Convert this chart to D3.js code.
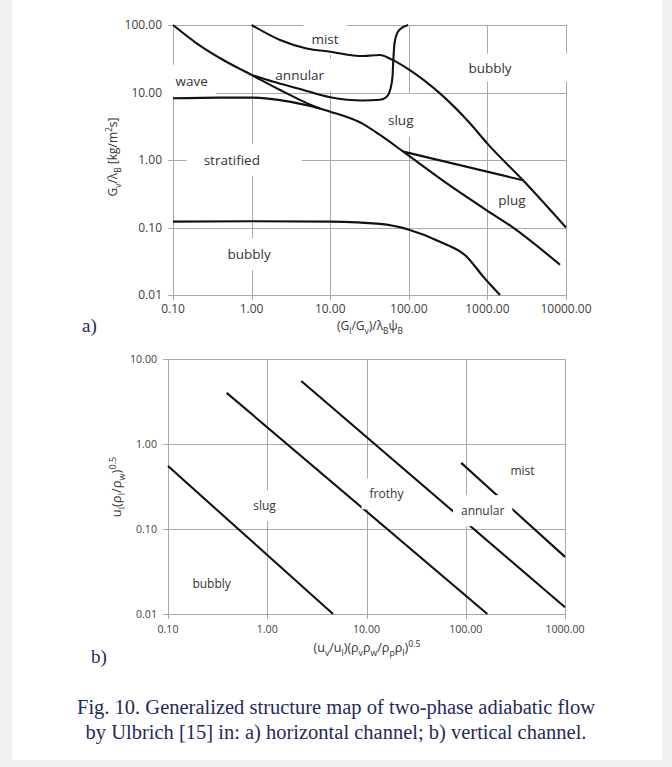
<!DOCTYPE html>
<html>
<head>
<meta charset="utf-8">
<script src="https://cdnjs.cloudflare.com/ajax/libs/d3/7.8.5/d3.min.js"></script>
<style>
  body { margin: 0; background: #f1f1f1; }
  svg { display: block; }
</style>
</head>
<body>
<div id="figure"></div>
<script>
// ---- data ----
// a) horizontal channel
var topXTicks = [0.1, 1, 10, 100, 1000, 10000];
var topYTicks = [0.01, 0.1, 1, 10, 100];

var waveUpper = [[0.1, 100], [0.2, 53.6], [0.436, 30.3], [1, 18.2], [2.3, 10.9], [7.4, 5.8], [10, 5.2],
  [26.4, 3.4], [43, 2.35], [85, 1.33], [250, 0.53], [980, 0.18], [2040, 0.103], [8400, 0.028]];
var waveLower = [[0.1, 8.2], [0.4, 8.4], [1, 8.4], [2.3, 7.7], [5, 6.5], [7.4, 5.8]];
var annularLower = [[1, 18.2], [1.9, 14.4], [4, 11.4], [10, 8.5], [26, 7.6], [43, 7.8], [52, 8.6],
  [58, 11], [62, 17], [63.5, 30], [66, 55], [74, 82], [98, 100]];
var mistBubbly = [[1, 100], [2.3, 60], [5, 45], [10, 40.2], [26, 34.7], [43, 35.9], [60, 31], [103, 21.5],
  [249, 9.7], [600, 3.5], [1000, 1.75], [2840, 0.5], [10000, 0.1]];
var slugPlug = [[85, 1.33], [2840, 0.5]];
var bubblyLower = [[0.1, 0.122], [1, 0.124], [10, 0.122], [43, 0.113], [103, 0.092], [249, 0.0616],
  [546, 0.037], [887, 0.0186], [1445, 0.01]];

var topLabels = [["mist", 8.6, 62], ["annular", 4.1, 18.2], ["wave", 0.173, 14.8], ["stratified", 0.56, 1.0],
  ["bubbly", 0.93, 0.04], ["bubbly", 1080, 23], ["slug", 79, 3.9], ["plug", 2055, 0.25]];

// b) vertical channel
var botXTicks = [0.1, 1, 10, 100, 1000];
var botYTicks = [0.01, 0.1, 1, 10];

var bubblySlug = [[0.1, 0.55], [4.6, 0.01]];
var slugFrothy = [[0.39, 4.0], [165, 0.01]];
var frothyAnnular = [[2.2, 5.5], [1000, 0.012]];
var annularMist = [[90, 0.6], [1000, 0.047]];

var botLabels = [["bubbly", 0.275, 0.0225], ["slug", 0.94, 0.187], ["frothy", 15.9, 0.258],
  ["annular", 148, 0.163], ["mist", 373, 0.48]];

var captionLines = ["Fig. 10. Generalized structure map of two-phase adiabatic flow",
  "by Ulbrich [15] in: a) horizontal channel; b) vertical channel."];

// ---- page ----
var svgWidth = 672;
var svgHeight = 767;
var gridColor = "#a9a9a9";
var labelFont = "'Open Sans', sans-serif";

var svg = d3.select("#figure").append("svg")
  .attr("width", svgWidth)
  .attr("height", svgHeight);

svg.append("rect").attr("width", svgWidth).attr("height", svgHeight).attr("fill", "#f1f1f1");
svg.append("rect").attr("x", 12).attr("y", 0).attr("width", 650).attr("height", 760).attr("fill", "#fff");

// text with sub / superscripts: parts = [[text, "sub"|"sup"|null], ...]
function richText(sel, parts, size) {
  var cur = 0;
  parts.forEach(function(p) {
    var target = p[1] == "sub" ? size * 0.3 : (p[1] == "sup" ? -size * 0.4 : 0);
    var t = sel.append("tspan").text(p[0]).attr("dy", target - cur);
    if (p[1]) t.attr("font-size", size * 0.7);
    cur = target;
  });
}

function drawPanel(opt) {
  var x = opt.x, y = opt.y;
  var xl = x.range()[0], xr = x.range()[1];
  var yb = y.range()[0], yt = y.range()[1];
  var g = svg.append("g");
  var fmt = d3.format(".2f");

  var gridG = g.append("g");
  gridG.selectAll("line.v").data(opt.xTicks).enter().append("line")
    .attr("x1", d => Math.round(x(d)) + 0.5).attr("x2", d => Math.round(x(d)) + 0.5)
    .attr("y1", yt).attr("y2", yb + 5)
    .attr("stroke", gridColor).attr("stroke-width", 1);
  gridG.selectAll("line.h").data(opt.yTicks).enter().append("line")
    .attr("x1", xl - 5).attr("x2", xr + 0.5)
    .attr("y1", d => Math.round(y(d)) + 0.5).attr("y2", d => Math.round(y(d)) + 0.5)
    .attr("stroke", gridColor).attr("stroke-width", 1);

  g.selectAll("text.xt").data(opt.xTicks).enter().append("text")
    .attr("x", d => x(d)).attr("y", yb + opt.tickGap)
    .attr("text-anchor", "middle")
    .style("font-family", labelFont).style("font-size", opt.tickSize + "px").style("fill", "#404040")
    .text(d => fmt(d));
  g.selectAll("text.yt").data(opt.yTicks).enter().append("text")
    .attr("x", xl - 11).attr("y", d => y(d)).attr("dy", "0.35em")
    .attr("text-anchor", "end")
    .style("font-family", labelFont).style("font-size", opt.tickSize + "px").style("fill", "#404040")
    .text(d => fmt(d));

  var boxG, curveG;
  if (opt.boxesOver) {
    curveG = g.append("g");
    boxG = g.append("g");
  } else {
    boxG = g.append("g");
    curveG = g.append("g");
  }
  var textG = g.append("g");

  var line = d3.line()
    .x(d => x(d[0])).y(d => y(d[1]))
    .curve(d3.curveMonotoneX);
  opt.curves.forEach(function(c) {
    curveG.append("path")
      .attr("d", line(c))
      .attr("fill", "none")
      .attr("stroke", "#111")
      .attr("stroke-width", 2.1)
      .attr("stroke-linejoin", "round");
  });

  opt.labels.forEach(function(l, i) {
    var t = textG.append("text")
      .attr("x", x(l[1])).attr("y", y(l[2])).attr("dy", "0.35em")
      .attr("text-anchor", "middle")
      .style("font-family", labelFont).style("font-size", opt.labelSize + "px")
      .style("fill", "#333")
      .text(l[0]);
    var bb = t.node().getBBox();
    var pad = (opt.pads && opt.pads[i]) || [8, 8, 7, 7];
    boxG.append("rect")
      .attr("x", bb.x - pad[0]).attr("y", bb.y - pad[2])
      .attr("width", bb.width + pad[0] + pad[1]).attr("height", bb.height + pad[2] + pad[3])
      .attr("fill", "#fff");
  });
  return g;
}

// ---- a) ----
var xTop = d3.scaleLog().domain([0.1, 10000]).range([173, 566]);
var yTop = d3.scaleLog().domain([0.01, 100]).range([295, 25]);

drawPanel({
  x: xTop, y: yTop, xTicks: topXTicks, yTicks: topYTicks,
  curves: [waveUpper, waveLower, annularLower, mistBubbly, slugPlug, bubblyLower],
  labels: topLabels, tickSize: 12, tickGap: 18, labelSize: 13.5, boxesOver: false,
  pads: { 3: [17, 42, 7, 7], 5: [22, 58, 5, 5], 6: [8, 8, 17, 8] }
});

// ---- b) ----
var xBot = d3.scaleLog().domain([0.1, 1000]).range([168, 565]);
var yBot = d3.scaleLog().domain([0.01, 10]).range([614, 359]);

drawPanel({
  x: xBot, y: yBot, xTicks: botXTicks, yTicks: botYTicks,
  curves: [bubblySlug, slugFrothy, frothyAnnular, annularMist],
  labels: botLabels, tickSize: 10.6, tickGap: 19, labelSize: 12, boxesOver: true,
  pads: { 0: [6, 6, 4, 4], 4: [6, 6, 4, 4] }
});

// axis titles
var t1 = svg.append("text").attr("x", 370).attr("y", 330).attr("text-anchor", "middle")
  .style("font-family", labelFont).style("font-size", "12px").style("fill", "#333");
richText(t1, [["(G", null], ["l", "sub"], ["/G", null], ["v", "sub"], [")/λ", null], ["B", "sub"], ["ψ", null], ["B", "sub"]], 12);

var t2 = svg.append("text").attr("transform", "translate(117,157) rotate(-90)").attr("text-anchor", "middle")
  .style("font-family", labelFont).style("font-size", "12px").style("fill", "#333");
richText(t2, [["G", null], ["v", "sub"], ["/λ", null], ["B", "sub"], [" [kg/m", null], ["2", "sup"], ["s]", null]], 12);

var t3 = svg.append("text").attr("x", 367).attr("y", 652).attr("text-anchor", "middle")
  .style("font-family", labelFont).style("font-size", "12.5px").style("fill", "#333");
richText(t3, [["(u", null], ["v", "sub"], ["/u", null], ["l", "sub"], [")(ρ", null], ["v", "sub"], ["ρ", null], ["w", "sub"],
  ["/ρ", null], ["p", "sub"], ["ρ", null], ["l", "sub"], [")", null], ["0.5", "sup"]], 12.5);

var t4 = svg.append("text").attr("transform", "translate(121,487) rotate(-90)").attr("text-anchor", "middle")
  .style("font-family", labelFont).style("font-size", "13px").style("fill", "#333");
richText(t4, [["u", null], ["l", "sub"], ["(ρ", null], ["l", "sub"], ["/ρ", null], ["w", "sub"], [")", null], ["0.5", "sup"]], 13);

// panel letters and caption
var serif = "'Liberation Serif', 'Times New Roman', serif";
svg.append("text").attr("x", 82).attr("y", 332).text("a)")
  .style("font-family", serif).style("font-size", "19px").style("fill", "#1f2a5c");
svg.append("text").attr("x", 91).attr("y", 663).text("b)")
  .style("font-family", serif).style("font-size", "19px").style("fill", "#1f2a5c");

svg.selectAll("text.caption").data(captionLines).enter().append("text")
  .attr("class", "caption")
  .attr("x", 336).attr("y", (d, i) => 714 + i * 25)
  .attr("text-anchor", "middle")
  .style("font-family", serif).style("font-size", "20.5px").style("fill", "#1f2a5c")
  .text(d => d);
</script>
</body>
</html>
